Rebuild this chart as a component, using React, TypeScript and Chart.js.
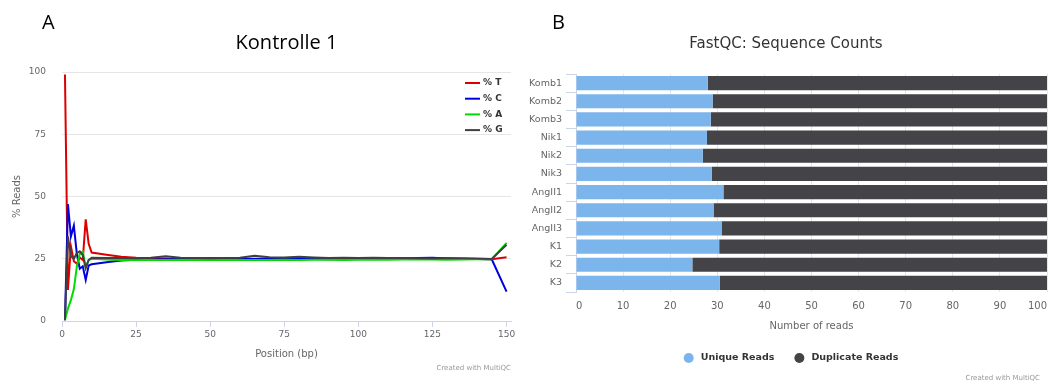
import React, { useEffect, useRef } from 'react';
import { Chart, registerables } from 'chart.js';

Chart.register(...registerables);

// ---------- Panel A data: per base sequence content ----------
const positions = [1, 2, 3, 4, 5, 6, 7, 8, 9, 10, 15, 20, 25, 30, 35, 40, 45, 50, 55, 60, 65, 70, 75, 80, 85, 90, 95, 100, 105, 110, 115, 120, 125, 130, 135, 140, 145, 150];
const percentT = [99, 12.5, 30, 24, 23, 25.5, 24.5, 40.8, 31, 27.5, 26.6, 25.8, 25.4, 25.2, 25.1, 25.0, 25.2, 25.3, 25.2, 25.1, 25.0, 25.1, 25.2, 25.3, 25.1, 25.2, 25.3, 25.2, 25.1, 25.0, 25.1, 25.0, 25.0, 25.1, 25.0, 24.9, 24.8, 25.6];
const percentC = [0.3, 47, 34, 38.3, 27, 21, 22, 16.5, 22.3, 22.8, 23.6, 24.3, 24.6, 24.7, 24.8, 24.9, 24.9, 25.0, 24.8, 24.9, 24.9, 25.0, 24.9, 25.0, 24.9, 24.8, 24.9, 24.9, 24.9, 25.0, 25.0, 25.3, 25.4, 25.1, 24.9, 24.9, 24.8, 11.8];
const percentA = [0.4, 5, 8.4, 12.8, 21.8, 27, 27.8, 21.6, 24.5, 25, 24.7, 24.5, 24.5, 24.5, 24.5, 24.6, 24.5, 24.5, 24.6, 24.5, 24.5, 24.5, 24.6, 24.5, 24.6, 24.6, 24.5, 24.6, 24.6, 24.6, 24.7, 24.7, 24.7, 24.6, 24.7, 24.8, 24.8, 31.4];
const percentG = [0.3, 34, 26, 25, 27.2, 28, 26.5, 21.2, 24.5, 25.4, 25.3, 25.3, 25.2, 25.4, 26.0, 25.4, 25.3, 25.2, 25.3, 25.4, 26.2, 25.6, 25.5, 25.8, 25.5, 25.3, 25.4, 25.3, 25.4, 25.3, 25.3, 25.2, 25.1, 25.2, 25.2, 25.1, 24.9, 30.6];
const baseLabels = ['% T', '% C', '% A', '% G'];
const baseColors = ['#dc0000', '#0000dc', '#00dc00', '#404040'];
const positionTicks = [0, 25, 50, 75, 100, 125, 150];
const readsTicks = [0, 25, 50, 75, 100];

// ---------- Panel B data: sequence counts ----------
const sampleNames = ['Komb1', 'Komb2', 'Komb3', 'Nik1', 'Nik2', 'Nik3', 'AngII1', 'AngII2', 'AngII3', 'K1', 'K2', 'K3'];
const uniqueReads = [28.0, 29.0, 28.6, 27.8, 26.9, 28.8, 31.3, 29.2, 30.9, 30.4, 24.7, 30.5];
const duplicateReads = [72.0, 71.0, 71.4, 72.2, 73.1, 71.2, 68.7, 70.8, 69.1, 69.6, 75.3, 69.5];
const countSeriesLabels = ['Unique Reads', 'Duplicate Reads'];
const countSeriesColors = ['#7cb5ec', '#434348'];
const countTicks = [0, 10, 20, 30, 40, 50, 60, 70, 80, 90, 100];

// ---------- Text ----------
const PANEL_A = 'A';
const PANEL_B = 'B';
const TITLE_A = 'Kontrolle 1';
const TITLE_B = 'FastQC: Sequence Counts';
const X_TITLE_A = 'Position (bp)';
const Y_TITLE_A = '% Reads';
const X_TITLE_B = 'Number of reads';
const CREDIT = 'Created with MultiQC';

const FONT = "'DejaVu Sans', sans-serif";
const BIG_FONT = "'Open Sans', sans-serif";
const W = 524;
const H = 383;

const panelAText = {
  id: 'panelAText',
  afterDraw(chart: any) {
    const { ctx, chartArea } = chart;
    ctx.save();
    ctx.fillStyle = '#000';
    ctx.font = `20px ${BIG_FONT}`;
    ctx.textBaseline = 'alphabetic';
    ctx.textAlign = 'left';
    ctx.fillText(PANEL_A, 42, 29);
    ctx.textAlign = 'center';
    ctx.fillText(TITLE_A, (chartArea.left + chartArea.right) / 2, 49);
    ctx.fillStyle = '#999';
    ctx.font = `7px ${FONT}`;
    ctx.textAlign = 'right';
    ctx.textBaseline = 'middle';
    ctx.fillText(CREDIT, chartArea.right, 368);
    // legend
    const x0 = chartArea.right - 46;
    chart.data.datasets.forEach((ds: any, i: number) => {
      const y = chartArea.top + 11 + i * 15.7;
      ctx.strokeStyle = ds.borderColor;
      ctx.lineWidth = 2;
      ctx.beginPath();
      ctx.moveTo(x0, y);
      ctx.lineTo(x0 + 15, y);
      ctx.stroke();
      ctx.fillStyle = '#333';
      ctx.font = `bold 9px ${FONT}`;
      ctx.textAlign = 'left';
      ctx.fillText(ds.label, x0 + 18, y);
    });
    ctx.restore();
  },
};

const panelBText = {
  id: 'panelBText',
  afterDraw(chart: any) {
    const { ctx, width } = chart;
    ctx.save();
    ctx.fillStyle = '#000';
    ctx.font = `20px ${BIG_FONT}`;
    ctx.textBaseline = 'alphabetic';
    ctx.textAlign = 'left';
    ctx.fillText(PANEL_B, 28, 29);
    ctx.fillStyle = '#333';
    ctx.font = `15px ${FONT}`;
    ctx.textAlign = 'center';
    ctx.fillText(TITLE_B, width / 2, 48);
    ctx.fillStyle = '#999';
    ctx.font = `7px ${FONT}`;
    ctx.textAlign = 'right';
    ctx.textBaseline = 'middle';
    ctx.fillText(CREDIT, width - 8, 378);
    // legend
    ctx.font = `bold 9.5px ${FONT}`;
    const items = chart.data.datasets.map((ds: any) => ({
      label: ds.label,
      color: ds.backgroundColor,
      w: ctx.measureText(ds.label).width,
    }));
    const sym = 10;
    const gap = 7;
    const spacing = 20;
    const total = items.reduce((s: number, it: any) => s + sym + gap + it.w, 0) + spacing * (items.length - 1);
    let x = width / 2 - total / 2 + 5;
    const y = 358;
    items.forEach((it: any) => {
      ctx.fillStyle = it.color;
      ctx.beginPath();
      ctx.arc(x + sym / 2, y, sym / 2, 0, Math.PI * 2);
      ctx.fill();
      ctx.fillStyle = '#333';
      ctx.textAlign = 'left';
      ctx.fillText(it.label, x + sym + gap, y);
      x += sym + gap + it.w + spacing;
    });
    ctx.restore();
  },
};

function LineChart() {
  const ref = useRef<HTMLCanvasElement>(null);
  useEffect(() => {
    if (!ref.current) return;
    const series = [percentT, percentC, percentA, percentG];
    const chart = new Chart(ref.current, {
      type: 'line',
      data: {
        datasets: series.map((vals, i) => ({
          label: baseLabels[i],
          data: positions.map((p, j) => ({ x: p, y: vals[j] })),
          borderColor: baseColors[i],
          backgroundColor: baseColors[i],
          borderWidth: 2,
          pointRadius: 0,
          tension: 0,
          fill: false,
          order: series.length - 1 - i,
        })),
      },
      options: {
        responsive: false,
        animation: false,
        layout: { padding: { top: 72, left: 8, right: 13, bottom: 19 } },
        plugins: { legend: { display: false }, tooltip: { enabled: false }, title: { display: false } },
        scales: {
          x: {
            type: 'linear',
            min: 0,
            max: 151.5,
            afterBuildTicks: (s: any) => {
              s.ticks = positionTicks.map((v) => ({ value: v }));
            },
            afterFit: (s: any) => {
              s.height = 43;
              s.paddingLeft = 0;
              s.paddingRight = 0;
            },
            grid: { display: true, drawOnChartArea: false, drawTicks: true, tickLength: 6, color: '#ccd6eb' },
            border: { display: true, color: '#ccd6eb' },
            ticks: { color: '#666', font: { family: FONT, size: 9 }, padding: 2, maxRotation: 0 },
            title: { display: true, text: X_TITLE_A, color: '#666', font: { family: FONT, size: 10 }, padding: { top: 0, bottom: 4 } },
          },
          y: {
            min: 0,
            max: 100,
            afterBuildTicks: (s: any) => {
              s.ticks = readsTicks.map((v) => ({ value: v }));
            },
            afterFit: (s: any) => {
              s.width = 54;
            },
            grid: { color: '#e6e6e6', drawTicks: false },
            border: { display: false },
            ticks: { color: '#666', font: { family: FONT, size: 9 }, padding: 16 },
            title: { display: true, text: Y_TITLE_A, color: '#666', font: { family: FONT, size: 10 }, padding: { top: 3, bottom: 0 } },
          },
        },
      },
      plugins: [panelAText],
    });
    return () => chart.destroy();
  }, []);
  return <canvas ref={ref} width={W} height={H} style={{ display: 'block', width: W, height: H }} />;
}

function BarChart() {
  const ref = useRef<HTMLCanvasElement>(null);
  useEffect(() => {
    if (!ref.current) return;
    const series = [uniqueReads, duplicateReads];
    const chart = new Chart(ref.current, {
      type: 'bar',
      data: {
        labels: sampleNames,
        datasets: series.map((vals, i) => ({
          label: countSeriesLabels[i],
          data: vals,
          backgroundColor: countSeriesColors[i],
          borderWidth: 0,
          barPercentage: 0.78,
          categoryPercentage: 1,
        })),
      },
      options: {
        indexAxis: 'y',
        responsive: false,
        animation: false,
        layout: { padding: { top: 74, left: 4, right: 1, bottom: 51 } },
        plugins: { legend: { display: false }, tooltip: { enabled: false }, title: { display: false } },
        scales: {
          x: {
            stacked: true,
            min: 0,
            max: 100,
            afterBuildTicks: (s: any) => {
              s.ticks = countTicks.map((v) => ({ value: v }));
            },
            afterFit: (s: any) => {
              s.height = 40;
              s.paddingLeft = 0;
              s.paddingRight = 0;
            },
            grid: { color: '#e6e6e6', drawTicks: false },
            border: { display: false },
            ticks: { color: '#666', font: { family: FONT, size: 10 }, padding: 8, align: 'inner', maxRotation: 0 },
            title: { display: true, text: X_TITLE_B, color: '#666', font: { family: FONT, size: 10 }, padding: { top: 0, bottom: 0 } },
          },
          y: {
            stacked: true,
            afterFit: (s: any) => {
              s.width = 48;
            },
            grid: { display: true, drawOnChartArea: false, offset: true, drawTicks: true, tickLength: 10, color: '#ccd6eb' },
            border: { display: true, color: '#ccd6eb' },
            ticks: { color: '#666', font: { family: FONT, size: 9.5 }, padding: 4 },
          },
        },
      },
      plugins: [panelBText],
    });
    return () => chart.destroy();
  }, []);
  return <canvas ref={ref} width={W} height={H} style={{ display: 'block', width: W, height: H }} />;
}

export default function App() {
  return (
    <div style={{ position: 'fixed', left: 0, top: 0, width: 1048, height: 383, background: '#fff', display: 'flex', overflow: 'hidden' }}>
      <LineChart />
      <BarChart />
    </div>
  );
}
